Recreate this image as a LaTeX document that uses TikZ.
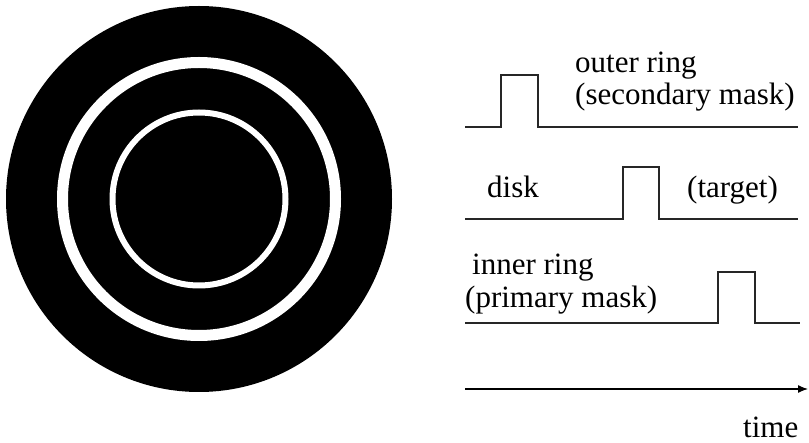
\documentclass[tikz,border=0pt]{standalone}
\usepackage{fontspec}
\setmainfont{Liberation Serif}
\usetikzlibrary{arrows.meta}

\begin{document}
\begin{tikzpicture}[x=1pt,y=-1pt,
		trace/.style={line width=1.1pt,black!85},
		lbl/.style={anchor=base west,inner sep=0pt,font=\fontsize{31}{36}\selectfont}]
		\useasboundingbox (0,0) rectangle (809,443);
		
		% Target disk and rings
		\coordinate (O) at (199,199);
		\fill[black] (O) circle (193pt);
		\draw[white,line width=11pt] (O) circle (136.5pt);
		\draw[white,line width=6pt] (O) circle (86.5pt);
		
		% Outer ring trace
		\coordinate (a0) at (465,127);
		\coordinate (a1) at (501,127);
		\coordinate (a2) at (501,75);
		\coordinate (a3) at (538,75);
		\coordinate (a4) at (538,127);
		\coordinate (a5) at (798,127);
		\draw[trace] (a0) -- (a1) -- (a2) -- (a3) -- (a4) -- (a5);
		
		% Disk trace
		\coordinate (b0) at (465,219);
		\coordinate (b1) at (623,219);
		\coordinate (b2) at (623,167);
		\coordinate (b3) at (659,167);
		\coordinate (b4) at (659,219);
		\coordinate (b5) at (798,219);
		\draw[trace] (b0) -- (b1) -- (b2) -- (b3) -- (b4) -- (b5);
		
		% Inner ring trace
		\coordinate (c0) at (465,323);
		\coordinate (c1) at (718,323);
		\coordinate (c2) at (718,272);
		\coordinate (c3) at (755,272);
		\coordinate (c4) at (755,323);
		\coordinate (c5) at (800,323);
		\draw[trace] (c0) -- (c1) -- (c2) -- (c3) -- (c4) -- (c5);
		
		% Time axis
		\coordinate (t0) at (465,389);
		\coordinate (t1) at (808,389);
		\draw[line width=1.3pt,-{Latex[length=10pt,width=8pt]}] (t0) -- (t1);
		
		% Labels
		\node[lbl] (outer) at (575,73) {outer ring};
		\node[lbl] (secondary) at (575,105) {(secondary mask)};
		\node[lbl] (disk) at (487,198) {disk};
		\node[lbl] (target) at (687,198) {(target)};
		\node[lbl] (inner) at (472,275) {inner ring};
		\node[lbl] (primary) at (465,308) {(primary mask)};
		\node[lbl] (time) at (743,438) {time};
	\end{tikzpicture}
\end{document}
